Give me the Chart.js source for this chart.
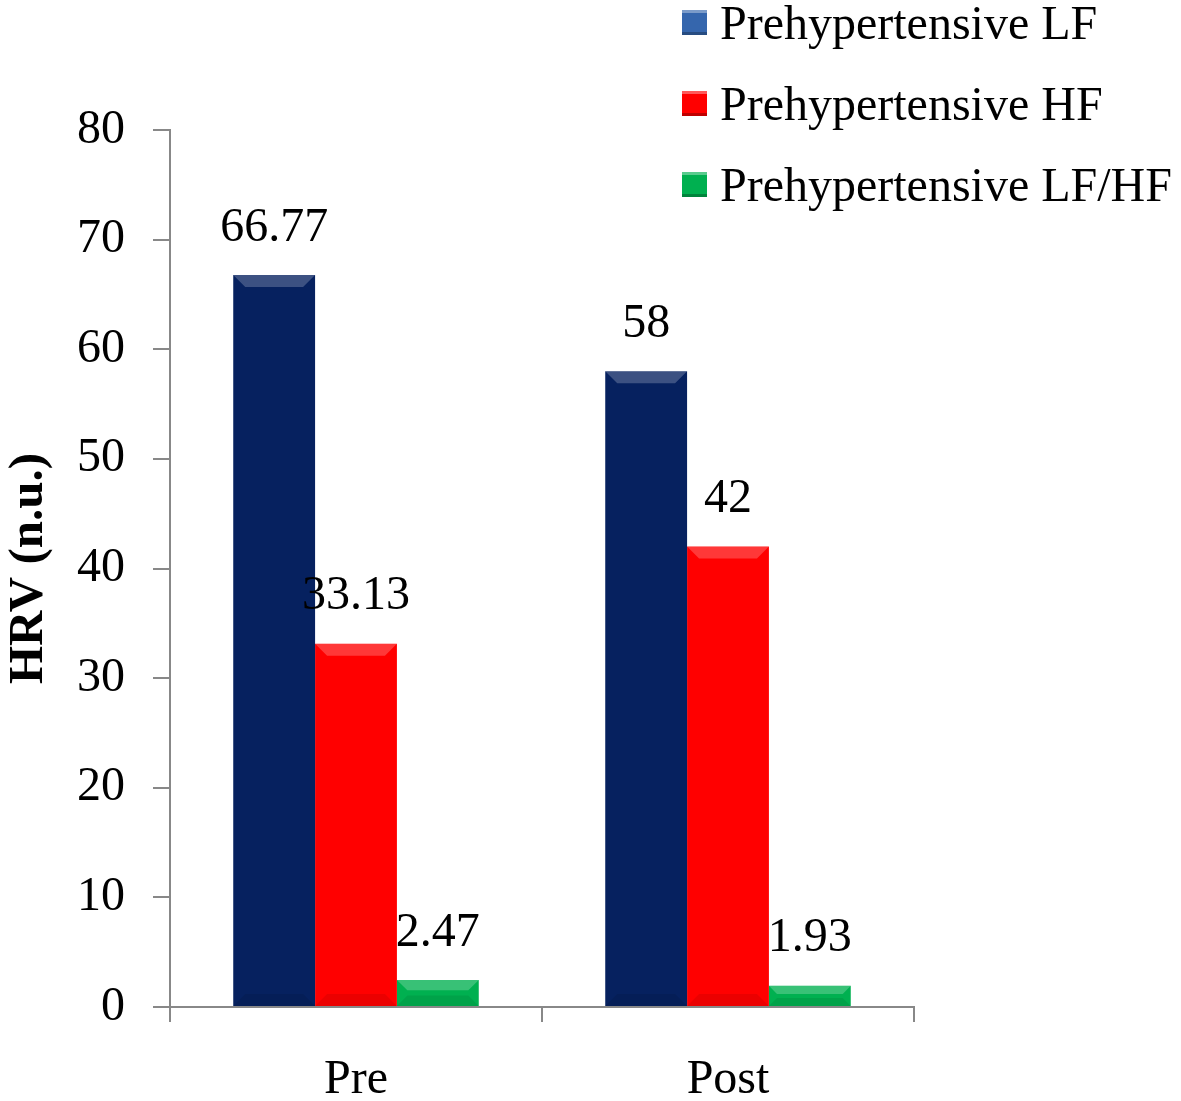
<!DOCTYPE html>
<html>
<head>
<meta charset="utf-8">
<script src="https://cdn.jsdelivr.net/npm/chart.js@4.4.1/dist/chart.umd.min.js"></script>
<style>
  body { margin: 0; background: #fff; }
  #wrap { position: relative; width: 1181px; height: 1101px; }
  #legend { position: absolute; left: 682px; top: 0; font-family: "Liberation Serif", "Times New Roman", serif; font-size: 48px; color: #000; }
  .row { position: absolute; left: 0; height: 50px; display: flex; align-items: center; white-space: nowrap; }
  .box { width: 25px; height: 25px; margin-right: 13px; box-sizing: border-box; }
</style>
</head>
<body>
<div id="wrap">
  <canvas id="chart" width="1181" height="1101"></canvas>
  <div id="legend"></div>
</div>
<script>
const categories = ["Pre", "Post"];
const seriesNames = ["Prehypertensive LF", "Prehypertensive HF", "Prehypertensive LF/HF"];
const lfValues = [66.77, 58];
const hfValues = [33.13, 42];
const ratioValues = [2.47, 1.93];
const yTicks = [0, 10, 20, 30, 40, 50, 60, 70, 80];

const barColors = ["#06215f", "#ff0000", "#00b050"];
const legendColors = ["#3566ad", "#ff0000", "#00b050"];
const serif = "'Liberation Serif', 'Times New Roman', serif";

// legend (html, top right)
const legend = document.getElementById("legend");
seriesNames.forEach(function (name, i) {
  const row = document.createElement("div");
  row.className = "row";
  row.style.top = (-3 + i * 81) + "px";
  row.innerHTML = '<span class="box" style="background:' + legendColors[i] +
    ';box-shadow: inset 0 3px 0 rgba(255,255,255,0.35), inset 0 -3px 0 rgba(0,0,0,0.25)"></span>' + name;
  legend.appendChild(row);
});

// light bevel on top of each bar
const bevel = {
  id: "bevel",
  afterDatasetsDraw(chart) {
    const ctx = chart.ctx;
    chart.data.datasets.forEach(function (ds, i) {
      chart.getDatasetMeta(i).data.forEach(function (bar) {
        const l = bar.x - bar.width / 2, r = bar.x + bar.width / 2;
        const b = Math.min(12, (bar.base - bar.y) / 2.5);
        ctx.save();
        ctx.fillStyle = "rgba(255,255,255,0.22)";
        ctx.beginPath();
        ctx.moveTo(l, bar.y); ctx.lineTo(r, bar.y);
        ctx.lineTo(r - b, bar.y + b); ctx.lineTo(l + b, bar.y + b);
        ctx.closePath(); ctx.fill();
        ctx.fillStyle = "rgba(0,0,0,0.08)";
        ctx.beginPath();
        ctx.moveTo(l, bar.base); ctx.lineTo(r, bar.base);
        ctx.lineTo(r - b, bar.base - b); ctx.lineTo(l + b, bar.base - b);
        ctx.closePath(); ctx.fill();
        ctx.restore();
      });
    });
  }
};

// value labels above bars
const valueLabels = {
  id: "valueLabels",
  afterDatasetsDraw(chart) {
    const ctx = chart.ctx;
    ctx.save();
    ctx.font = "48px " + serif;
    ctx.fillStyle = "#000";
    ctx.textAlign = "center";
    ctx.textBaseline = "bottom";
    chart.data.datasets.forEach(function (ds, i) {
      chart.getDatasetMeta(i).data.forEach(function (bar, j) {
        ctx.fillText(String(ds.data[j]), bar.x, bar.y - 23);
      });
    });
    ctx.restore();
  }
};

const plots = document.getElementById("chart");

new Chart(plots, {
  type: "bar",
  data: {
    labels: categories,
    datasets: [
      { label: seriesNames[0], data: lfValues, backgroundColor: barColors[0] },
      { label: seriesNames[1], data: hfValues, backgroundColor: barColors[1] },
      { label: seriesNames[2], data: ratioValues, backgroundColor: barColors[2] }
    ]
  },
  options: {
    responsive: false,
    devicePixelRatio: 1,
    animation: false,
    layout: { padding: { top: 130, right: 267, bottom: 0, left: 0 } },
    datasets: { bar: { categoryPercentage: 0.66, barPercentage: 1.0 } },
    plugins: { legend: { display: false }, tooltip: { enabled: false } },
    scales: {
      x: {
        grid: { drawOnChartArea: false, drawTicks: true, tickLength: 15, color: "#888", lineWidth: 2 },
        border: { color: "#888", width: 2 },
        ticks: { color: "#000", font: { family: serif, size: 48 }, padding: 30 },
        afterFit(scale) { scale.height = 94; }
      },
      y: {
        min: 0,
        max: 80,
        afterBuildTicks(scale) { scale.ticks = yTicks.map(v => ({ value: v })); },
        grid: { drawOnChartArea: false, drawTicks: true, tickLength: 17, color: "#888", lineWidth: 2 },
        border: { color: "#888", width: 2 },
        ticks: { color: "#000", font: { family: serif, size: 48 }, padding: 28 },
        title: { display: true, text: "HRV (n.u.)", color: "#000", font: { family: serif, size: 49, weight: "bold" }, padding: 0 },
        afterFit(scale) { scale.width = 170; }
      }
    }
  },
  plugins: [bevel, valueLabels]
});
</script>
</body>
</html>
